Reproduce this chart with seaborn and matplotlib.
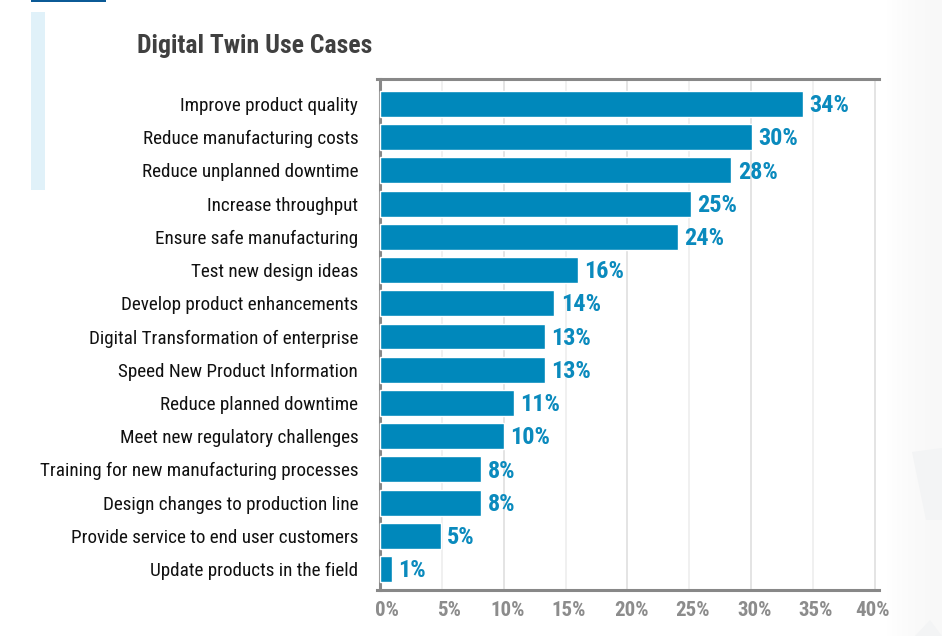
import numpy as np
import pandas as pd
import matplotlib.pyplot as plt
import matplotlib.patches as mpatches
import matplotlib.transforms as mtransforms
import seaborn as sns

categories = [
    'Improve product quality', 'Reduce manufacturing costs', 'Reduce unplanned downtime',
    'Increase throughput', 'Ensure safe manufacturing', 'Test new design ideas',
    'Develop product enhancements', 'Digital Transformation of enterprise',
    'Speed New Product Information', 'Reduce planned downtime',
    'Meet new regulatory challenges', 'Training for new manufacturing processes',
    'Design changes to production line', 'Provide service to end user customers',
    'Update products in the field',
]
# bar lengths as measured, the printed labels are rounded
values = [34.2, 30.1, 28.4, 25.1, 24.1, 16.0, 14.1, 13.3, 13.3, 10.8, 10.0, 8.2, 8.2, 4.9, 1.0]
value_labels = ['34%', '30%', '28%', '25%', '24%', '16%', '14%', '13%', '13%', '11%', '10%', '8%', '8%', '5%', '1%']
x_ticks = [0, 5, 10, 15, 20, 25, 30, 35, 40]
x_tick_labels = ['0%', '5%', '10%', '15%', '20%', '25%', '30%', '35%', '40%']
# the printed tick labels sit a little off their gridlines (pixels)
x_label_shift = [7, 7, 4, 3, 4, 3, 3, 3, -2]

sns.set_theme(style='white')
plt.rcParams['font.family'] = ['Roboto Condensed', 'Roboto', 'DejaVu Sans']

W, H = 942, 636
fig = plt.figure(figsize=(W / 100, H / 100), dpi=100, facecolor='white')

# page background: faint grey on the right side
bg = fig.add_axes([0, 0, 1, 1], zorder=0)
shade = np.array([[1.0, 0.998, 0.985, 0.975, 0.97]])
bg.imshow(shade, extent=(860, W, H, 0), cmap='gray', vmin=0, vmax=1, aspect='auto', interpolation='bilinear')
bg.set_xlim(0, W)
bg.set_ylim(H, 0)
bg.axis('off')
bg.add_patch(mpatches.Polygon([[912, 452], [942, 448], [942, 520], [926, 520]], color='#f3f4f5', lw=0))
bg.add_patch(mpatches.Polygon([[915, 636], [930, 620], [942, 636]], color='#f3f4f5', lw=0))
bg.add_patch(mpatches.Rectangle((31, 12), 14, 178, color='#e0f1f9', lw=0))
bg.add_patch(mpatches.Rectangle((31, 0), 75, 1.5, color='#0b5a96', lw=0))

left, right, top, bottom = 377, 879, 79, 590
ax = fig.add_axes([left / W, 1 - bottom / H, (right - left) / W, (bottom - top) / H], zorder=1)
ax.patch.set_alpha(0)

df = pd.DataFrame({'use_case': categories, 'pct': values})
sns.barplot(data=df, x='pct', y='use_case', color='#0088bb', saturation=1, width=0.78, ax=ax, zorder=3)

texts = ax.bar_label(ax.containers[0], labels=value_labels, padding=4.5, color='#0a8abd',
                     fontsize=17.5, fontweight='bold', zorder=4)
for t in texts:
    t.xyann = (t.xyann[0], -1.2)

ax.set_xlim(-0.24, 40.33)
ax.set_ylim(14.63, -0.75)
ax.set_xlabel('')
ax.set_ylabel('')
ax.set_xticks(x_ticks)
ax.set_xticklabels(x_tick_labels)
ax.tick_params(axis='x', length=0, pad=8, labelsize=15, labelcolor='#8c8c8c')
ax.tick_params(axis='y', length=0, pad=15.7, labelsize=13.75, labelcolor='#111111')
for lab, dx in zip(ax.get_xticklabels(), x_label_shift):
    lab.set_fontweight('bold')
    lab.set_transform(lab.get_transform() + mtransforms.Affine2D().translate(dx, 0))

# every other gridline is lighter in the original
for tick in x_ticks[1:]:
    grid_col = '#e4e4e4' if tick % 10 == 0 else '#f0f0f0'
    ax.axvline(tick, color=grid_col, lw=1.4, zorder=1)

for side in ['top', 'left', 'bottom']:
    ax.spines[side].set_color('#888888')
    ax.spines[side].set_linewidth(2.2)
ax.spines['right'].set_visible(False)
ax.spines['left'].set_position(('data', 0))

fig.text(137 / W, 1 - 46 / H, 'Digital Twin Use Cases', fontsize=18.5, fontweight='bold',
         color='#404040', va='center', ha='left')

fig.savefig('out.png', dpi=100)
